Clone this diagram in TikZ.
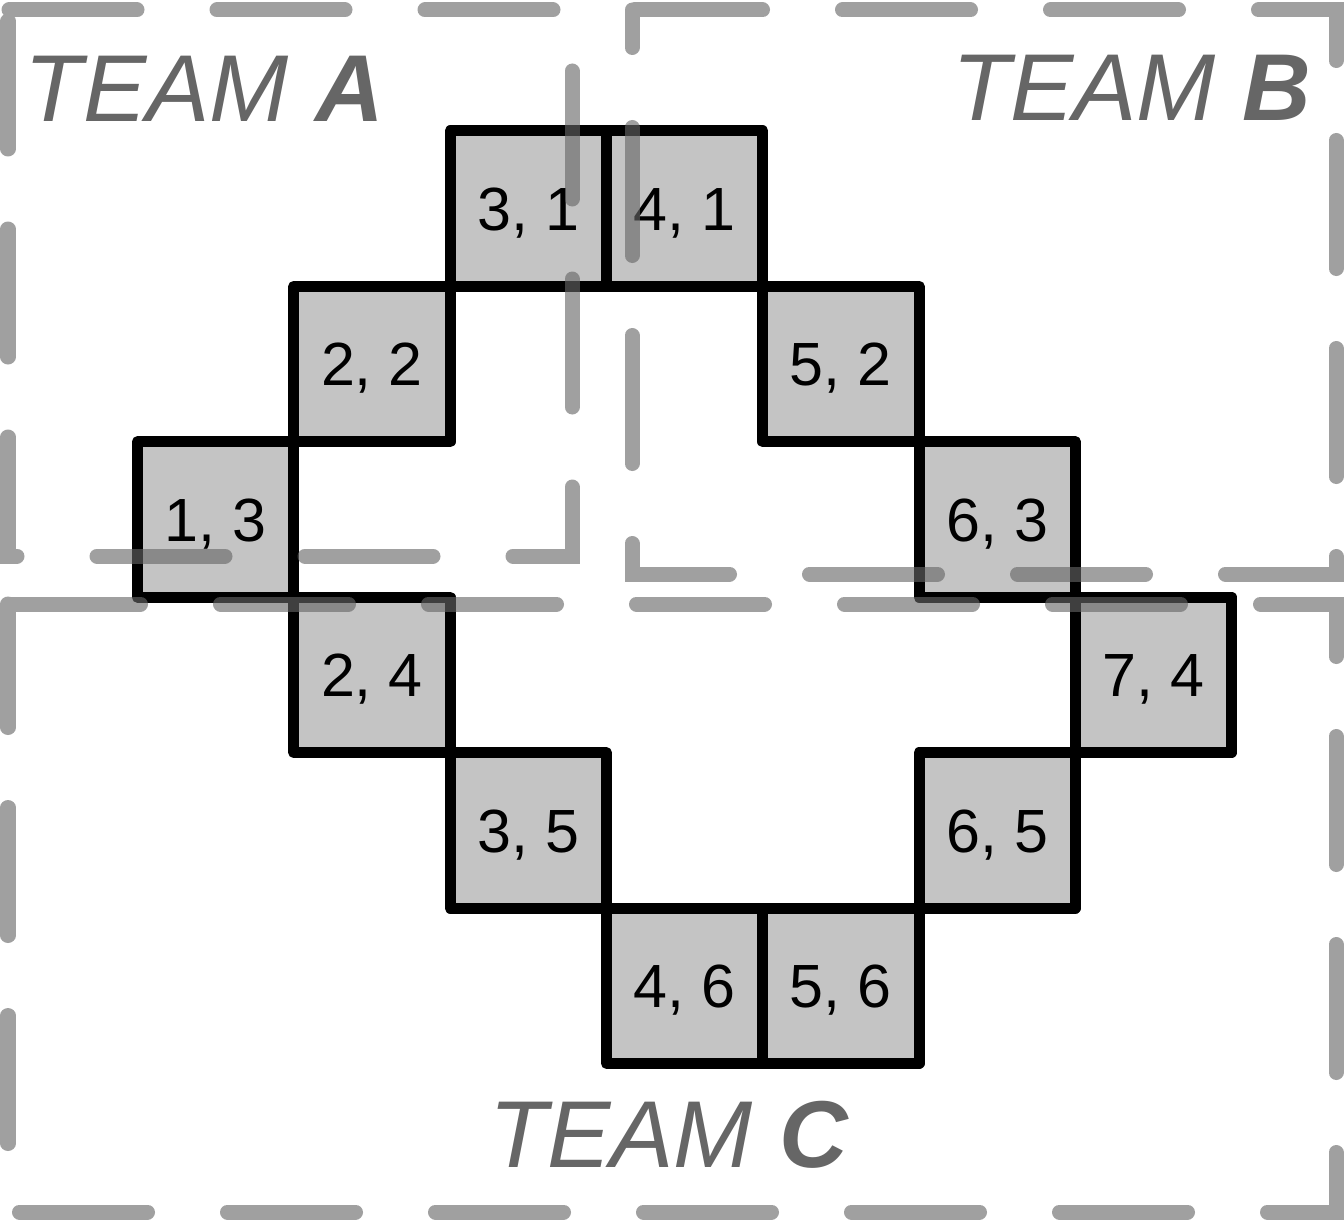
\documentclass[tikz,border=0pt]{standalone}
\usepackage{fontspec}
\setmainfont{Liberation Sans}
\definecolor{cellfill}{HTML}{C4C4C4}
\definecolor{teamgray}{HTML}{666666}
\tikzset{
  cellbox/.style={draw=black, fill=cellfill, line width=5.5pt, line join=round,
    minimum width=78.15pt, minimum height=77.7pt, inner sep=0pt, outer sep=0pt,
    text height=21.8pt, text depth=0pt,
    font=\fontsize{30.5pt}{36pt}\selectfont},
  teamrect/.style={draw=teamgray, draw opacity=0.62, line width=7.5pt, line cap=round,
    dash pattern=on 64pt off 40pt},
  teamlabel/.style={text=teamgray, inner sep=0pt, outer sep=0pt,
    font=\fontsize{47.5pt}{56pt}\selectfont\itshape}
}
\begin{document}
\begin{tikzpicture}[x=0.5pt,y=-0.5pt]
\useasboundingbox (0,0) rectangle (1344,1220);
\fill[white] (0,0) rectangle (1344,1220);
% cells
\foreach \c/\r in {3/1,4/1,2/2,5/2,1/3,6/3,2/4,7/4,3/5,6/5,4/6,5/6}{
  \node[cellbox] (cell\c\r) at ({137.5+(\c-0.5)*156.3},{131+(\r-0.5)*155.4}) {\c, \r};
}
% team regions
\coordinate (atl) at (8,10);   \coordinate (abl) at (8,556);
\coordinate (abr) at (572,556); \coordinate (atr) at (572,10);
\coordinate (btl) at (632,10);  \coordinate (bbl) at (632,574);
\coordinate (bbr) at (1336,574); \coordinate (btr) at (1336,10);
\coordinate (ctl) at (8,604);   \coordinate (cbl) at (8,1212);
\coordinate (cbr) at (1336,1212); \coordinate (ctr) at (1336,604);
\draw[teamrect, dash phase=98.5pt] (atl) -- (abl) -- (abr) -- (atr) -- cycle;
\draw[teamrect, dash phase=45.25pt] (btl) -- (bbl) -- (bbr) -- (btr) -- cycle;
\draw[teamrect, dash phase=2.25pt] (ctl) -- (cbl) -- (cbr) -- (ctr) -- cycle;
% labels
\node[teamlabel, anchor=base west] (teamA) at (25,122) {TEAM \textbf{A}};
\node[teamlabel, anchor=base east] (teamB) at (1311,121) {TEAM \textbf{B}};
\node[teamlabel, anchor=base west] (teamC) at (489,1167) {TEAM \textbf{C}};
\end{tikzpicture}
\end{document}
